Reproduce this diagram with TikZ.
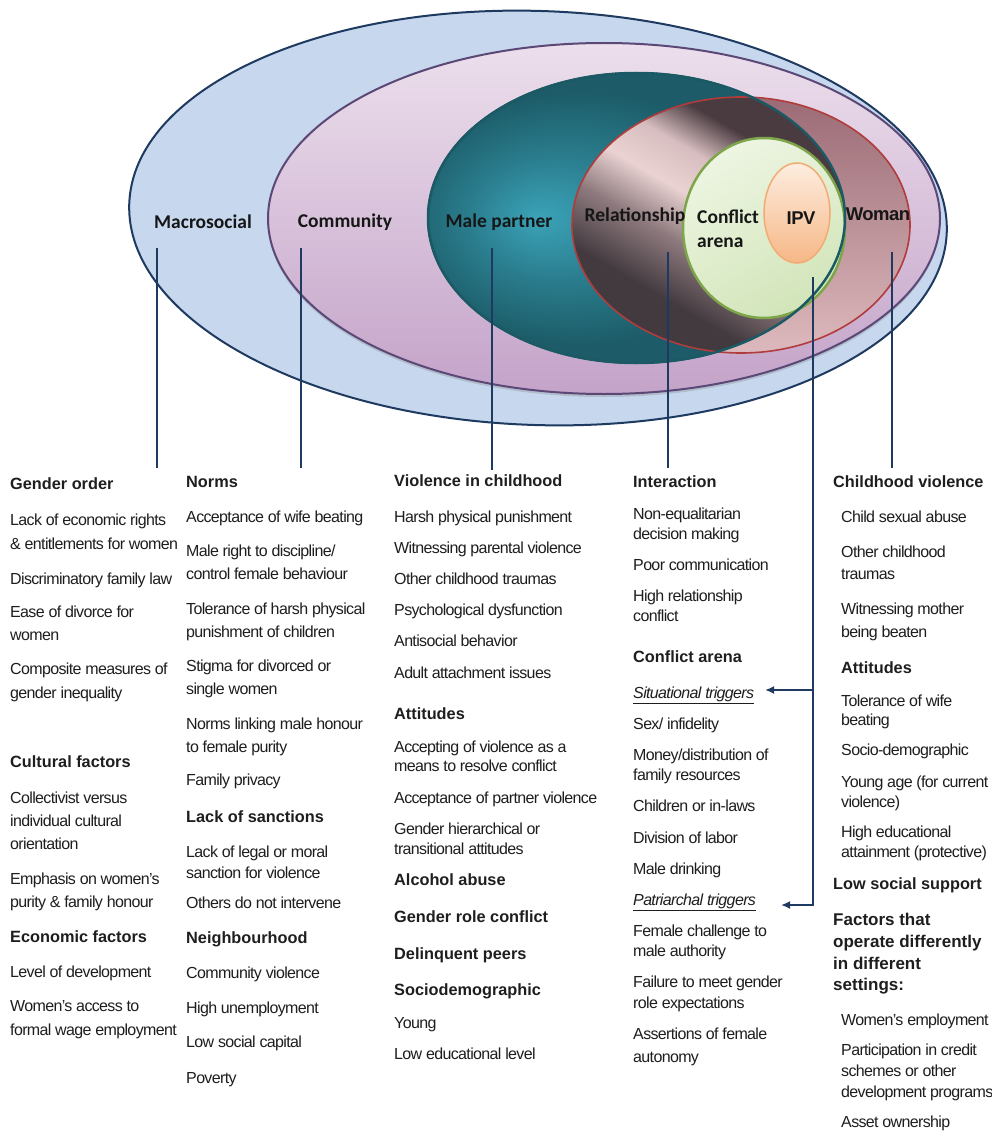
\documentclass[tikz,border=0pt]{standalone}
\usepackage{fontspec}
\setmainfont{Liberation Sans}
\newfontfamily\bodyf[LetterSpace=-4]{Liberation Sans}
\newfontfamily\headf{Liberation Sans}
\newfontfamily\tightbf[LetterSpace=-3]{Liberation Sans}
\newfontfamily\calf{Carlito}
\usetikzlibrary{shadows,arrows.meta}
\definecolor{navy}{HTML}{1F3A60}
\definecolor{blueF}{HTML}{C7D8EE}
\definecolor{purpB}{HTML}{5B4876}
\definecolor{purpT}{HTML}{ECDFEC}
\definecolor{purpM}{HTML}{DCC7DE}
\definecolor{purpBot}{HTML}{C4A3C9}
\definecolor{tealB}{HTML}{1B5965}
\definecolor{tealL}{HTML}{3BA3B8}
\definecolor{tealM}{HTML}{2B7F90}
\definecolor{tealD}{HTML}{1C5B67}
\definecolor{redB}{HTML}{B03C3C}
\definecolor{mauveT}{HTML}{9B6B75}
\definecolor{mauveB}{HTML}{DDB9BD}
\definecolor{mD}{HTML}{423A3F}
\definecolor{mM}{HTML}{8E7A7E}
\definecolor{mL}{HTML}{EAD2D2}
\definecolor{mLL}{HTML}{D7BDBF}
\definecolor{mDD}{HTML}{4A3B40}
\definecolor{greenA}{HTML}{EDF5E2}
\definecolor{greenZ}{HTML}{D2E5B9}
\definecolor{greenB}{HTML}{7DA64A}
\definecolor{ipvA}{HTML}{FDEDE0}
\definecolor{ipvZ}{HTML}{F6B786}
\definecolor{ipvB}{HTML}{F3AB73}
\definecolor{txt}{HTML}{1E1E1E}
\definecolor{lab}{HTML}{161616}
\pgfdeclareradialshading{tealsh}{\pgfpoint{-12bp}{0bp}}{color(0bp)=(tealL); color(10bp)=(tealM); color(22bp)=(tealD); color(50bp)=(tealD)}
\pgfdeclarehorizontalshading{metalsh}{100bp}{color(0bp)=(mD); color(32bp)=(mD); color(42bp)=(mM); color(50bp)=(mL); color(57bp)=(mLL); color(64bp)=(mDD); color(100bp)=(mDD)}
\begin{document}
\begin{tikzpicture}[x=1pt,y=-1pt,
  body/.style={font=\bodyf\fontsize{16}{19}\selectfont, text=txt, anchor=mid west, inner sep=0pt},
  head/.style={font=\headf\bfseries\fontsize{16.3}{19}\selectfont, text=txt, anchor=mid west, inner sep=0pt},
  bighead/.style={head, font=\headf\bfseries\fontsize{17}{20}\selectfont},
  ital/.style={body, font=\bodyf\itshape\fontsize{16}{19}\selectfont},
  ulab/.style={font=\calf\bfseries\fontsize{19.5}{24}\selectfont, text=lab, inner sep=0pt},
  alab/.style={font=\tightbf\bfseries\fontsize{18.5}{22}\selectfont, text=lab, inner sep=0pt},
  conn/.style={draw=navy, line width=2pt},
  arr/.style={conn, -{Latex[length=9pt,width=8pt]}},
]
\useasboundingbox (0,0) rectangle (992,1137);
\fill[white] (0,0) rectangle (992,1137);

% ---- ellipses ----
\path[fill=blueF, draw=navy, line width=2pt, rotate around={-2:(538,218)}]
  (538,218) ellipse [x radius=409pt, y radius=207pt];
\path[top color=purpT, middle color=purpM, bottom color=purpBot, draw=purpB, line width=2pt,
  drop shadow={shadow xshift=0pt, shadow yshift=-3pt, opacity=0.3}]
  (604,218.5) ellipse [x radius=336pt, y radius=175.5pt];
\path[shading=tealsh, draw=tealB, line width=2pt]
  (636.5,218) ellipse [x radius=208.5pt, y radius=145pt];
\path[top color=mauveT, bottom color=mauveB]
  (741,225) ellipse [x radius=169pt, y radius=128pt];
\begin{scope}
  \clip (636.5,218) ellipse [x radius=208.5pt, y radius=145pt];
  \path[shading=metalsh, shading angle=60]
    (741,225) ellipse [x radius=169pt, y radius=128pt];
\end{scope}
\draw[redB, line width=1.6pt] (741,225) ellipse [x radius=169pt, y radius=128pt];
\path[top color=greenA, bottom color=greenZ, shading angle=30, draw=greenB, line width=2.5pt]
  (764,228) ellipse [x radius=81pt, y radius=90pt];
\path[top color=ipvA, bottom color=ipvZ, draw=ipvB, line width=1.5pt]
  (797,213) ellipse [x radius=33pt, y radius=50pt];
\draw[tealB, line width=2.5pt] (636.5,218) ellipse [x radius=208.5pt, y radius=145pt];

% ---- ellipse labels ----
\node[ulab] (macro) at (203,222) {Macrosocial};
\node[ulab] (comm) at (345,222) {Community};
\node[ulab] (male) at (499,222) {Male partner};
\node[ulab] (rel) at (635,216) {Relationship};
\node[ulab, align=left, anchor=west] (conf) at (697,229) {Conflict\\arena};
\node[alab] (ipv) at (801,218) {IPV};
\node[alab] (woman) at (878,214) {Woman};

% ---- connector end points ----
\coordinate (macroT) at (157,248);  \coordinate (macroB) at (157,468);
\coordinate (commT) at (301,248);   \coordinate (commB) at (301,468);
\coordinate (maleT) at (492,248);   \coordinate (maleB) at (492,470);
\coordinate (relT) at (668,252);    \coordinate (relB) at (668,468);
\coordinate (womT) at (892,252);    \coordinate (womB) at (892,468);
\coordinate (ipvT) at (813,277);
\coordinate (sitA) at (765,690);
\coordinate (patA) at (781,905);

% ---- column 1 ----
\node[head] (g1) at (10,487) {Gender order};
\node[body] (g2) at (10,523) {Lack of economic rights};
\node[body] (g3) at (10,547) {\& entitlements for women};
\node[body] (g4) at (10,582) {Discriminatory family law};
\node[body] (g5) at (10,615) {Ease of divorce for};
\node[body] (g6) at (10,638) {women};
\node[body] (g7) at (10,672) {Composite measures of};
\node[body] (g8) at (10,696) {gender inequality};
\node[head] (g9) at (10,765) {Cultural factors};
\node[body] (g10) at (10,801) {Collectivist versus};
\node[body] (g11) at (10,824) {individual cultural};
\node[body] (g12) at (10,847) {orientation};
\node[body] (g13) at (10,882) {Emphasis on women’s};
\node[body] (g14) at (10,905) {purity \& family honour};
\node[head] (g15) at (10,940) {Economic factors};
\node[body] (g16) at (10,975) {Level of development};
\node[body] (g17) at (10,1009) {Women’s access to};
\node[body] (g18) at (10,1033) {formal wage employment};

% ---- column 2 ----
\node[head] (n1) at (186,485) {Norms};
\node[body] (n2) at (186,520) {Acceptance of wife beating};
\node[body] (n3) at (186,554) {Male right to discipline/};
\node[body] (n4) at (186,577) {control female behaviour};
\node[body] (n5) at (186,612) {Tolerance of harsh physical};
\node[body] (n6) at (186,635) {punishment of children};
\node[body] (n7) at (186,669) {Stigma for divorced or};
\node[body] (n8) at (186,692) {single women};
\node[body] (n9) at (186,727) {Norms linking male honour};
\node[body] (n10) at (186,750) {to female purity};
\node[body] (n11) at (186,783) {Family privacy};
\node[head] (n12) at (186,820) {Lack of sanctions};
\node[body] (n13) at (186,855) {Lack of legal or moral};
\node[body] (n14) at (186,876) {sanction for violence};
\node[body] (n15) at (186,906) {Others do not intervene};
\node[head] (n16) at (186,941) {Neighbourhood};
\node[body] (n17) at (186,976) {Community violence};
\node[body] (n18) at (186,1011) {High unemployment};
\node[body] (n19) at (186,1045) {Low social capital};
\node[body] (n20) at (186,1081) {Poverty};

% ---- column 3 ----
\node[head] (v1) at (394,484) {Violence in childhood};
\node[body] (v2) at (394,520) {Harsh physical punishment};
\node[body] (v3) at (394,551) {Witnessing parental violence};
\node[body] (v4) at (394,582) {Other childhood traumas};
\node[body] (v5) at (394,613) {Psychological dysfunction};
\node[body] (v6) at (394,644) {Antisocial behavior};
\node[body] (v7) at (394,676) {Adult attachment issues};
\node[head] (v8) at (394,717) {Attitudes};
\node[body] (v9) at (394,750) {Accepting of violence as a};
\node[body] (v10) at (394,769) {means to resolve conflict};
\node[body] (v11) at (394,801) {Acceptance of partner violence};
\node[body] (v12) at (394,832) {Gender hierarchical or};
\node[body] (v13) at (394,852) {transitional attitudes};
\node[head] (v14) at (394,883) {Alcohol abuse};
\node[head] (v15) at (394,920) {Gender role conflict};
\node[head] (v16) at (394,957) {Delinquent peers};
\node[head] (v17) at (394,993) {Sociodemographic};
\node[body] (v18) at (394,1026) {Young};
\node[body] (v19) at (394,1057) {Low educational level};

% ---- column 4 ----
\node[head] (i1) at (633,485) {Interaction};
\node[body] (i2) at (633,517) {Non-equalitarian};
\node[body] (i3) at (633,537) {decision making};
\node[body] (i4) at (633,568) {Poor communication};
\node[body] (i5) at (633,599) {High relationship};
\node[body] (i6) at (633,619) {conflict};
\node[head] (i7) at (633,660) {Conflict arena};
\node[ital] (sit) at (633,696) {\underline{Situational triggers}};
\node[body] (i9) at (633,727) {Sex/ infidelity};
\node[body] (i10) at (633,758) {Money/distribution of};
\node[body] (i11) at (633,778) {family resources};
\node[body] (i12) at (633,809) {Children or in-laws};
\node[body] (i13) at (633,841) {Division of labor};
\node[body] (i14) at (633,872) {Male drinking};
\node[ital] (pat) at (633,903) {\underline{Patriarchal triggers}};
\node[body] (i16) at (633,934) {Female challenge to};
\node[body] (i17) at (633,954) {male authority};
\node[body] (i18) at (633,985) {Failure to meet gender};
\node[body] (i19) at (633,1006) {role expectations};
\node[body] (i20) at (633,1037) {Assertions of female};
\node[body] (i21) at (633,1060) {autonomy};

% ---- column 5 ----
\node[head] (w1) at (833,485) {Childhood violence};
\node[body] (w2) at (841,520) {Child sexual abuse};
\node[body] (w3) at (841,555) {Other childhood};
\node[body] (w4) at (841,577) {traumas};
\node[body] (w5) at (841,612) {Witnessing mother};
\node[body] (w6) at (841,635) {being beaten};
\node[head] (w7) at (841,671) {Attitudes};
\node[body] (w8) at (841,704) {Tolerance of wife};
\node[body] (w9) at (841,723) {beating};
\node[body] (w10) at (841,753) {Socio-demographic};
\node[body] (w11) at (841,785) {Young age (for current};
\node[body] (w12) at (841,805) {violence)};
\node[body] (w13) at (841,835) {High educational};
\node[body] (w14) at (841,855) {attainment (protective)};
\node[head] (w15) at (833,887) {Low social support};
\node[bighead] (w16) at (833,923) {Factors that};
\node[bighead] (w17) at (833,945) {operate differently};
\node[bighead] (w18) at (833,967) {in different};
\node[bighead] (w19) at (833,988) {settings:};
\node[body] (w20) at (841,1023) {Women’s employment};
\node[body] (w21) at (841,1053) {Participation in credit};
\node[body] (w22) at (841,1074) {schemes or other};
\node[body] (w23) at (841,1095) {development programs};
\node[body] (w24) at (841,1125) {Asset ownership};

% ---- connectors ----
\draw[conn] (macroT) -- (macroB);
\draw[conn] (commT) -- (commB);
\draw[conn] (maleT) -- (maleB);
\draw[conn] (relT) -- (relB);
\draw[conn] (womT) -- (womB);
\draw[arr] (ipvT) |- (sitA);
\draw[arr] (ipvT) |- (patA);
\end{tikzpicture}
\end{document}
